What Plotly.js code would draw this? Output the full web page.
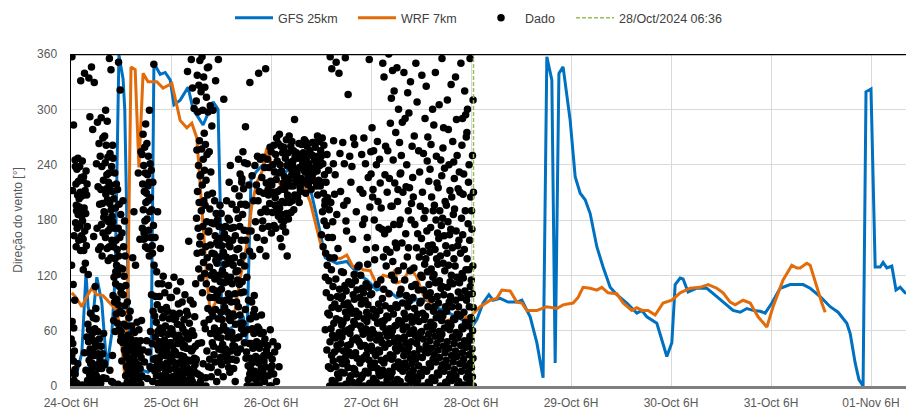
<!DOCTYPE html>
<html>
<head>
<meta charset="utf-8">
<script src="https://cdn.plot.ly/plotly-3.0.1.min.js"></script>
<style>html,body{margin:0;padding:0;background:#fff;}#chart{width:906px;height:410px;}</style>
</head>
<body>
<div id="chart"></div>
<script>
// ---- Data (hours after 24-Oct-2024 06:00) ----
const gfsHours = [0.2,1.4,2.6,3.6,4.1,4.6,5.3,6.2,7.4,8.6,9.8,10.6,11.5,12.5,12.9,13.9,15.1,16.6,18.5,19.2,19.9,21.4,22.6,23.8,24.7,26.2,28.1,29.3,31.7,34.1,35.3,35.8,36.2,38.2,39.8,41.3,42.2,43.2,44.4,46.1,47.3,49.0,50.9,52.6,54.5,55.9,57.4,59.8,61.0,63.8,66.2,68.6,71.0,73.4,74.9,76.6,78.2,79.7,81.4,83.0,85.4,87.8,90.2,92.6,95.0,96.5,97.4,98.9,100.3,101.3,103.0,104.9,107.0,108.2,110.2,111.8,113.3,114.2,115.4,116.2,117.1,118.1,119.8,121.0,122.2,123.4,124.6,126.2,127.7,129.4,131.0,133.4,135.8,137.0,138.2,140.6,143.0,144.2,145.0,146.2,146.9,148.1,150.2,152.6,155.0,156.5,158.9,160.6,162.2,163.7,165.4,166.6,168.2,170.2,172.6,175.7,177.4,179.8,182.2,184.1,186.2,187.0,188.2,189.1,190.1,190.8,192.0,193.0,194.2,194.9,195.8,197.0,198.0,199.0,200.2,201.4];
const gfsDir   = [17,14,36,122,86,76,76,118,90,20,57,120,359,333,300,60,30,18,15,18,350,338,340,332,305,310,324,300,283,308,300,200,62,62,68,76,50,224,232,240,248,235,228,238,235,240,215,167,139,133,135,123,115,104,106,102,96,98,90,94,93,85,80,75,69,66,72,90,99,93,95,91,91,93,75,47,9,357,332,25,339,346,288,227,209,202,187,151,129,107,99,90,79,82,75,68,32,47,110,117,116,102,106,106,97,91,82,80,84,82,81,79,90,106,110,110,106,97,86,80,68,57,25,7,0,319,322,129,129,134,128,130,104,107,101,100];

const wrfHours = [0.2,1.0,2.6,3.8,5.0,6.2,7.7,9.4,11.0,11.8,13.0,13.7,14.4,15.4,16.3,17.3,18.5,20.6,22.1,24.2,26.2,27.8,29.0,30.2,31.0,31.7,32.6,33.4,35.0,36.5,38.2,38.9,40.6,42.2,43.4,44.6,45.8,47.0,48.2,49.4,50.9,52.6,55.0,57.4,59.8,61.0,62.6,64.6,66.2,67.7,68.9,70.1,71.8,73.4,74.9,76.6,77.8,78.2,79.7,81.4,83.0,84.5,86.9,89.0,91.0,92.9,94.6,96.2,98.2,100.6,102.2,103.4,105.4,107.0,108.2,109.4,111.8,114.2,116.6,118.1,120.5,121.7,122.9,124.6,126.2,127.4,128.9,131.0,132.5,134.6,135.8,137.0,138.5,140.2,142.1,144.2,146.2,148.6,151.0,152.9,155.0,156.5,158.2,159.4,161.3,163.0,164.9,167.0,168.5,170.9,173.0,174.2,175.0,176.6,177.4,179.0,180.2,181.0];
const wrfDir   = [101,97,86,97,106,99,98,90,82,61,7,120,346,343,237,339,330,330,323,328,288,280,285,269,215,167,117,80,93,88,80,69,117,153,196,221,232,258,240,226,212,220,225,200,156,142,140,138,142,129,131,126,125,110,120,118,126,112,114,128,118,99,86,69,72,79,74,77,86,93,95,104,103,91,90,82,82,86,84,88,90,96,107,106,104,107,101,100,90,82,85,82,82,77,90,93,101,106,107,110,106,101,91,88,93,90,75,64,86,115,131,128,128,133,131,107,90,80];

// Observed direction ("Dado"), one list per hour, starting 24-Oct 06:00
const dadoDay1 = [
 [1,6,14,18,27,33,38,46,51,63,70,93,110,131,163,212,245,283,357],
 [3,13,24,151,158,171,177,186,190,203,207,219,222,235,238,247,196],
 [1,147,159,163,174,179,191,194,206,210,223,226,238,244,331,126,184],
 [6,17,36,53,133,147,152,168,173,187,193,207,212,227,233,339,219],
 [0,4,12,16,24,28,36,40,48,52,61,67,79,334,346,292,121,33],
 [2,9,13,21,25,33,37,45,49,57,62,74,84,329,278,108,162,19],
 [0,7,11,19,23,31,35,43,51,59,73,148,171,197,216,241,263,286,27],
 [3,9,19,25,35,43,57,141,151,166,175,189,198,213,223,238,249,269,291,183],
 [8,23,149,161,168,181,188,202,208,221,229,242,248,261,271,287,299,136,214],
 [5,17,33,139,151,158,171,178,191,198,211,218,231,238,252,261,343,355,184],
 [4,59,71,78,91,98,111,118,131,138,151,158,171,178,193,203,219,231,247,124],
 [2,49,61,68,81,88,101,108,121,128,141,148,161,171,186,197,213,321,351,94],
 [0,27,39,47,59,67,79,87,99,107,119,127,141,151,166,179,201,54],
 [0,4,11,14,21,24,31,34,41,44,51,55,65,74,91,109,17],
 [2,8,11,18,21,28,31,38,41,48,51,59,65,81,139,25],
 [0,5,8,15,18,25,28,35,38,45,49,58,69,131,189,12],
 [2,8,11,19,23,31,35,43,49,61,71,159,231,254,37],
 [10,26,39,151,159,171,179,191,199,211,219,231,239,251,259,273,284,166],
 [8,21,37,49,141,149,161,169,181,189,201,209,221,229,241,249,263,299,217],
 [5,19,29,46,59,81,99,131,144,161,174,191,204,221,234,349,152],
 [3,11,16,25,30,39,44,53,59,69,76,88,97,111,124,161,189,21],
 [0,7,11,19,23,31,35,43,48,57,63,74,83,97,111,149,27],
 [2,9,13,21,25,33,37,45,50,59,65,76,85,101,119,16],
 [0,6,10,18,22,30,34,42,47,56,62,73,81,96,109,37]
];
const dadoDay2 = [
 [0,7,10,19,26,29,38,43,47,56,61,72,79,96,118,33],
 [2,5,15,22,25,34,37,46,52,55,67,74,89,103,11],
 [0,8,12,16,25,31,33,42,49,51,62,66,79,91,113,20],
 [3,6,16,20,29,32,41,44,54,58,72,81,99,341,25],
 [0,9,13,17,27,28,38,40,51,55,68,77,93,157,354,4],
 [2,5,15,19,28,30,40,43,55,60,75,89,111,301,323,23],
 [0,13,29,127,144,154,171,182,199,211,228,239,256,266,297,309,326,337,353,46],
 [5,24,47,68,101,117,134,145,162,173,190,201,218,229,246,257,274,299,319,335,357,11],
 [0,21,38,62,84,111,122,139,151,167,178,196,207,223,234,251,262,297,313,324,345,9],
 [10,29,47,57,72,81,96,105,120,129,144,153,168,177,192,209,232,254,282,304,346,20],
 [5,26,43,56,63,76,83,96,103,116,123,136,143,156,163,176,187,201,299,331,34],
 [15,31,40,53,60,73,80,93,100,113,120,133,140,153,160,173,180,196,354,25],
 [10,23,32,45,52,65,72,85,92,105,112,125,132,145,152,165,172,187,311,39],
 [20,33,40,53,60,73,80,93,100,113,120,133,140,153,160,173,182,201,221,27],
 [15,29,38,51,58,71,78,91,98,111,118,131,138,151,158,171,180,197,239,44],
 [5,19,28,43,52,67,76,91,100,115,124,139,148,163,172,191,214,36],
 [40,53,62,77,86,101,110,125,134,149,158,173,182,197,206,221,230,246,68],
 [30,47,68,83,102,113,130,141,158,169,186,197,214,225,242,254,281,57],
 [0,13,22,37,46,61,73,93,118,146,168,196,218,241,329,7],
 [0,9,14,25,30,41,46,57,62,73,78,91,98,141,168,201,228,19],
 [2,11,16,27,32,43,48,59,64,75,83,161,178,201,218,239,249,7],
 [0,9,14,25,30,41,46,57,62,77,148,171,188,211,226,246,339,19],
 [5,15,21,33,39,51,58,141,158,179,192,209,220,237,248,344,27],
 [0,11,18,33,44,61,173,189,198,213,222,237,246,259,207]
];
const dadoDay3 = [
 [0,13,22,37,48,166,174,188,196,210,218,232,240,254,261,29],
 [5,21,43,171,184,191,204,211,224,231,244,251,263,269,197],
 [151,160,173,180,193,200,213,220,233,240,253,260,273,186],
 [141,167,179,187,199,207,219,227,239,247,259,267,213],
 [181,188,199,206,217,224,235,242,253,260,271,229],
 [191,201,207,217,223,233,239,249,255,265,289,244],
 [199,205,215,221,231,237,247,253,263,226],
 [211,220,225,234,239,248,253,262,267,243],
 [209,218,223,232,237,246,251,260,265,229],
 [213,222,227,236,241,250,255,264,232],
 [217,222,231,236,245,250,259,264,240],
 [207,217,223,233,239,249,255,265,271,244],
 [151,164,179,189,201,209,221,229,241,249,261,269,196],
 [21,39,61,79,101,114,131,144,161,174,191,204,221,234,251,118],
 [0,6,19,27,33,48,55,62,77,85,96,108,126,139,161,199,241,344,357,178],
 [3,13,21,37,44,52,68,73,89,97,116,139,186,229,266,351,208],
 [0,9,15,29,40,46,58,66,71,84,95,105,149,211,339,124,252],
 [2,14,24,31,38,53,59,69,80,88,97,109,123,179,241,264,356,196],
 [0,7,20,26,37,44,57,61,74,86,90,103,113,201,249,316,168],
 [4,11,19,33,45,50,63,70,79,84,99,110,121,159,221,269,238],
 [1,13,18,30,36,49,52,67,75,81,94,104,114,129,189,262],
 [5,9,25,29,43,47,61,65,78,89,96,106,120,131,251,213,175],
 [0,12,16,31,34,44,56,62,73,80,93,101,111,181,209,241,269,148],
 [3,14,22,28,40,52,58,70,76,88,99,107,161,194,226,254,354,132]
];
const dadoDay4 = [
 [0,8,20,25,38,43,57,61,74,83,100,180,205,230,255,280,137,213],
 [4,14,19,33,39,50,55,68,77,89,110,150,200,240,172,265],
 [1,11,17,28,37,47,51,64,70,82,95,115,140,170,220,350,193,246],
 [6,12,25,30,42,54,58,71,76,87,105,130,165,210,260,335,148,229],
 [0,10,16,29,34,46,55,62,74,84,100,120,145,170,195,225,255,285,360,312],
 [3,15,21,32,41,48,60,65,78,88,115,135,155,175,195,220,245,275,320,342],
 [1,7,19,26,38,44,52,66,71,85,100,125,150,175,200,230,300,345,264,213],
 [5,16,22,33,40,51,61,67,79,90,105,130,155,180,210,250,340,286,231],
 [0,8,20,25,37,47,53,64,73,86,98,115,140,165,190,240,290,318,216],
 [4,13,24,30,42,48,57,69,75,92,108,125,150,180,215,260,330,296,198],
 [2,10,17,29,35,46,55,61,74,84,96,110,128,150,175,205,350,271,226],
 [6,14,22,34,40,52,58,70,78,90,104,120,140,165,195,255,308,232],
 [0,11,18,31,38,51,59,72,79,92,104,118,132,146,160,182,210,290,252,337],
 [4,16,24,36,44,56,64,76,86,98,110,124,138,152,168,190,270,325,222,244],
 [1,9,21,29,41,49,61,69,81,94,101,118,127,145,153,172,190,205,235,300,262],
 [6,14,26,34,46,54,66,74,86,97,112,121,138,148,166,180,196,220,340,283,249],
 [0,12,19,31,39,51,59,71,79,90,106,114,132,141,160,174,190,215,245,305,228],
 [4,16,23,36,43,56,63,76,86,99,108,125,133,152,163,182,200,280,355,236,258],
 [2,8,21,28,41,48,61,68,81,91,107,113,131,144,164,178,196,240,310,212,278],
 [6,13,26,33,46,53,66,73,86,97,111,120,138,150,170,186,205,225,265,327,243],
 [0,11,18,32,38,52,58,72,78,93,102,118,130,152,168,192,250,335,214,289],
 [5,16,24,36,44,56,64,76,86,96,112,122,144,158,182,210,290,350,232,261],
 [1,9,22,29,42,49,62,69,80,93,103,117,126,148,164,190,230,270,320,208,294],
 [4,15,25,34,45,54,65,74,86,99,108,126,138,158,176,205,240,300,355,221,275],
 [0,10,20,30,40,50,60,72,85,100,115,130,170,210,250,190,310]
];

const tickHours  = [0,24,48,72,96,120,144,168,192];
const tickLabels = ['24-Oct 6H','25-Oct 6H','26-Oct 6H','27-Oct 6H','28-Oct 6H','29-Oct 6H','30-Oct 6H','31-Oct 6H','01-Nov 6H'];
const cutHour = 96.6;           // 28/Oct/2024 06:36
const cutLabel = '28/Oct/2024 06:36';
const yTicks = [0,60,120,180,240,300,360];

// ---- helpers ----
const base = Date.UTC(2024, 9, 24, 6, 0, 0);
function ts(h){ return new Date(base + h*3600000).toISOString().slice(0,19).replace('T',' '); }

const dadoAll = dadoDay1.concat(dadoDay2, dadoDay3, dadoDay4);
const dx = [], dy = [];
dadoAll.forEach((vals, i) => {
  const slot = Math.min(1, cutHour - i);
  vals.forEach((v, j) => {
    const f = (j*0.618034 + i*0.29 + 0.1) % 1;
    dx.push(ts(i + slot*f));
    dy.push(v);
  });
});

const gray = '#595959';
const traces = [
  {x: gfsHours.map(ts), y: gfsDir, name: 'GFS 25km', mode: 'lines', type: 'scatter',
   line: {color: '#0070C0', width: 3}, legend: 'legend'},
  {x: wrfHours.map(ts), y: wrfDir, name: 'WRF 7km', mode: 'lines', type: 'scatter',
   line: {color: '#E36C0A', width: 3}, legend: 'legend2'},
  {x: dx, y: dy, name: 'Dado', mode: 'markers', type: 'scatter',
   marker: {color: '#000', size: 7.5}, legend: 'legend3'},
  {x: [ts(cutHour), ts(cutHour)], y: [0, 360], name: cutLabel, mode: 'lines', type: 'scatter',
   line: {color: '#9BBB59', width: 1.5, dash: '4px,2px'}, legend: 'legend4'}
];

const legBase = {orientation: 'h', xref: 'container', yref: 'container', yanchor: 'middle', y: 1 - 18/410,
  font: {family: 'Liberation Sans, Arial, sans-serif', size: 12.5, color: '#404040'},
  bgcolor: 'rgba(0,0,0,0)', itemwidth: 38};

const layout = {
  width: 906, height: 410,
  margin: {l: 71, r: 0, t: 54, b: 24},
  paper_bgcolor: '#fff', plot_bgcolor: '#fff',
  font: {family: 'Liberation Sans, Arial, sans-serif', size: 12, color: gray},
  showlegend: true,
  legend:  Object.assign({}, legBase, {x: 230/906}),
  legend2: Object.assign({}, legBase, {x: 353/906}),
  legend3: Object.assign({}, legBase, {x: 477/906}),
  legend4: Object.assign({}, legBase, {x: 571/906}),
  xaxis: {
    type: 'date', range: [ts(0), ts(200.4)],
    tickvals: tickHours.map(ts), ticktext: tickLabels,
    showgrid: true, gridcolor: '#d9d9d9', gridwidth: 1,
    zeroline: false, showline: true, linecolor: '#7f7f7f', linewidth: 3,
    ticks: '', tickfont: {size: 12, color: gray}, ticklabelstandoff: 4
  },
  yaxis: {
    range: [0, 360], tickvals: yTicks, ticktext: yTicks.map(String),
    showgrid: true, gridcolor: '#d9d9d9', gridwidth: 1,
    zeroline: false, showline: true, linecolor: '#000', linewidth: 1.5,
    ticks: '', tickfont: {size: 12, color: gray}, ticklabelstandoff: 10,
    title: {text: 'Direção do vento [°]', font: {size: 12, color: gray}, standoff: 12}
  },
  shapes: [
    {type: 'line', xref: 'paper', yref: 'y', x0: 0, x1: 1, y0: 360, y1: 360,
     line: {color: '#000', width: 2.5}, layer: 'above'}
  ]
};

Plotly.newPlot('chart', traces, layout, {displayModeBar: false, staticPlot: true});
</script>
</body>
</html>
